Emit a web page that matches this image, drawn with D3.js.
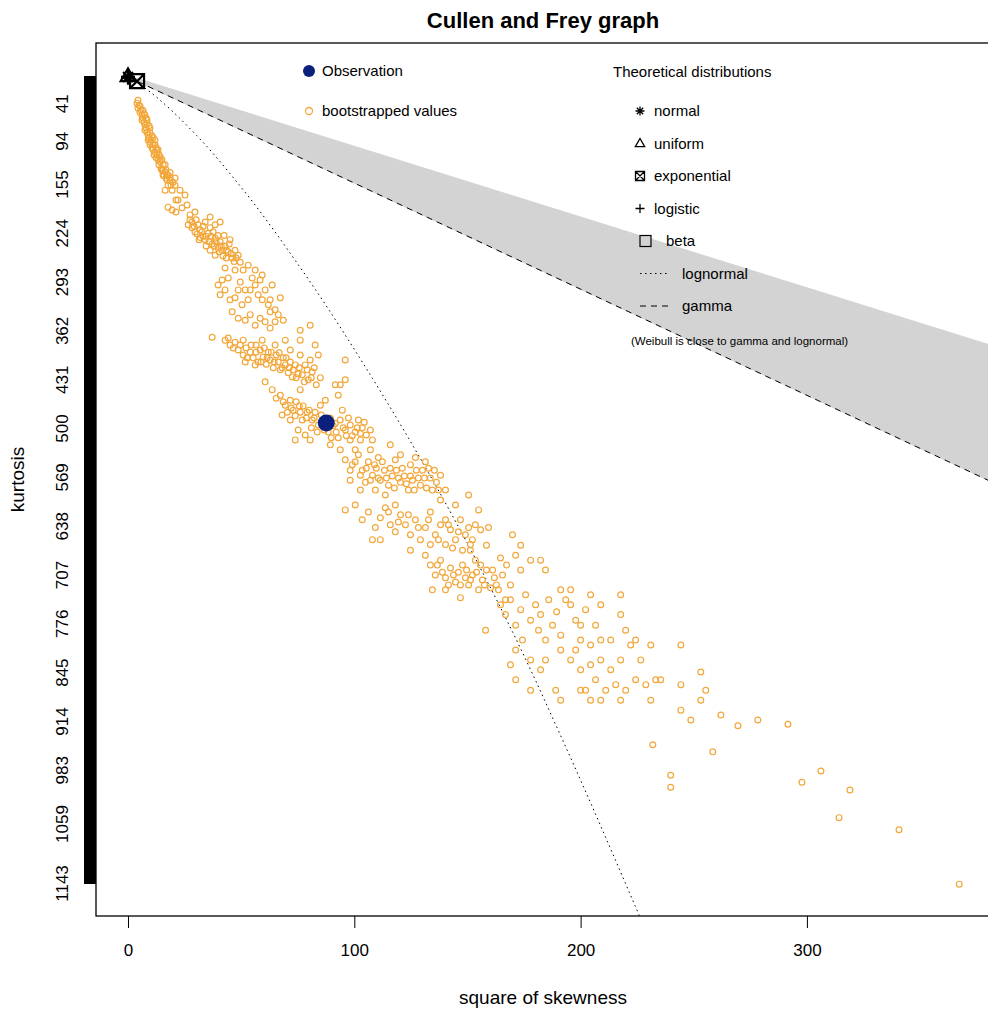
<!DOCTYPE html>
<html>
<head>
<meta charset="utf-8">
<script src="https://cdn.jsdelivr.net/npm/d3@7"></script>
<style>
body { margin: 0; background: #fff; }
svg { display: block; font-family: "Liberation Sans", Arial, Helvetica, sans-serif; }
</style>
</head>
<body>
<div id="chart"></div>
<script>
// observed (skewness^2, kurtosis)
const observation = [87.6, 492];

// bootstrapped (skewness^2, kurtosis)
const bootstrapped = [
  [4.0,40],[4.4,47],[4.9,43],[5.3,53],[5.8,50],[6.2,57],[6.2,64],[6.6,61],[7.1,67],[7.5,71],
  [7.5,78],[8.0,75],[8.4,81],[8.9,85],[8.9,92],[9.3,89],[9.7,95],[9.7,99],[10.2,92],[10.6,103],
  [11.1,99],[11.1,106],[11.5,113],[11.9,109],[12.4,117],[12.8,113],[13.3,120],[13.7,127],[14.2,123],[14.6,132],
  [15.0,135],[15.5,127],[15.9,142],[16.4,137],[16.8,146],[17.3,149],[17.7,156],[18.6,149],[19.5,163],[20.8,146],
  [7.5,57],[8.4,64],[9.7,75],[11.9,92],[13.3,106],
  [4.4,36],[5.3,44],[6.6,50],[7.1,55],[8.0,61],[8.4,69],[9.3,72],[9.7,82],[10.6,86],[11.1,89],
  [11.9,99],[12.4,103],[12.8,106],[13.7,113],[14.2,116],[15.0,120],[15.5,142],[16.4,127],[16.8,134],[17.7,142],
  [18.6,138],[19.0,156],[19.9,152],
  [14.2,120],[15.5,135],[17.3,142],[18.6,146],[20.8,156],[22.1,177],[17.7,187],[19.5,191],[21.2,194],[23.9,188],
  [26.1,184],[27.4,198],[29.6,194],[28.3,208],[23.0,163],[25.2,170],[21.2,177],[16.4,163],
  [26.6,212],[28.3,216],[29.6,222],[31.0,212],[31.9,219],[33.2,228],[34.1,233],[35.4,224],[36.3,216],[37.2,239],
  [38.5,231],[39.8,245],[40.7,236],[41.6,248],[42.9,242],[44.3,250],[45.1,233],[46.0,259],[47.3,248],[48.7,255],
  [49.6,265],[50.9,276],[38.5,212],[40.7,208],[34.1,208],[36.3,201],[31.9,230],[34.5,242],[37.6,222],[42.5,227],
  [43.4,259],[30.1,205],[33.2,214],[39.8,227],
  [27.4,205],[29.2,214],[30.5,225],[31.4,233],[32.7,222],[34.5,228],[35.8,236],[36.7,228],[38.1,242],[38.9,236],
  [40.3,250],[41.2,242],[42.0,256],[43.4,248],[44.7,239],[45.6,253],[46.9,264],[47.8,259],[36.3,248],[38.5,255],
  [39.8,297],[40.7,311],[42.9,304],[45.1,318],[47.3,315],[49.6,293],[50.4,325],[51.8,304],[53.1,318],[54.9,287],
  [56.2,297],[57.5,311],[58.4,290],[59.3,283],[60.6,304],[62.0,325],[62.8,318],[63.7,297],[65.0,332],[66.4,339],
  [67.3,315],[46.0,335],[48.7,344],[51.8,347],[54.0,339],[56.2,354],[58.4,344],[60.6,349],[62.8,358],[65.0,349],
  [44.3,287],[47.3,276],[42.9,273],[53.1,269],[56.2,276],
  [41.6,290],[48.7,304],[54.0,304],[59.3,318],[62.8,335],[68.6,347],
  [37.2,371],[42.9,375],[45.1,382],[47.3,378],[48.7,389],[49.6,382],[50.9,396],[52.2,386],[54.0,392],[55.3,400],
  [56.6,382],[57.5,406],[58.4,389],[59.7,399],[61.1,409],[62.0,392],[62.8,403],[64.2,414],[65.5,396],[66.4,406],
  [67.3,417],[68.6,400],[69.5,410],[70.8,421],[71.7,406],[73.0,417],[74.3,428],[75.7,414],[77.0,424],[78.3,410],
  [79.7,431],[81.4,420],[83.2,438],[85.0,428],[59.3,375],[65.0,382],[71.7,389],[76.1,396],[69.5,375],[76.1,375],
  [82.7,382],[84.1,396],[80.5,403],
  [44.3,372],[46.5,386],[50.9,375],[52.7,400],[54.4,382],[56.6,392],[58.8,406],[60.2,386],[61.5,400],[63.3,392],
  [64.6,406],[66.8,393],[68.1,414],[69.9,400],[71.2,414],[72.6,427],[73.9,410],[75.2,423],[77.9,434],[79.2,417],
  [81.0,428],[82.3,414],[56.2,410],[51.8,406],[76.1,361],[80.5,354],[93.8,438],[96.0,403],
  [60.6,434],[63.7,445],[67.3,453],[69.5,467],[71.7,460],[73.0,474],[74.3,462],[76.1,477],[77.4,468],[78.8,485],
  [80.1,474],[81.4,488],[82.7,477],[84.1,495],[85.4,481],[86.7,502],[89.4,485],[90.7,496],[92.0,505],[93.8,488],
  [95.1,499],[96.5,510],[98.2,495],[100.4,505],[101.8,488],[103.5,499],[105.3,509],[75.2,502],[78.3,509],[71.7,488],
  [68.1,481],[73.9,516],[80.5,516],[85.0,467],[91.6,438],[96.0,431],[92.9,453],[94.7,474],[76.1,445],[87.2,460],
  [98.2,516],[102.7,516],[100.4,530],[93.8,530],[89.4,523],
  [65.5,457],[68.6,462],[70.4,477],[72.1,471],[73.9,482],[75.7,468],[77.0,488],[79.2,477],[81.0,499],[82.3,485],
  [83.6,505],[86.3,488],[88.5,505],[89.8,513],[91.6,493],[92.9,513],[96.0,502],[97.4,485],[99.1,510],[101.3,499],
  [102.7,507],[104.4,491],[107.1,502],[108.0,516],
  [96.0,544],[99.1,551],[101.8,537],[103.5,559],[106.2,547],[108.0,566],[109.7,556],[111.5,573],[113.3,559],[115.1,580],
  [116.8,567],[118.6,559],[120.4,576],[122.1,567],[123.9,587],[125.7,573],[127.4,559],[129.2,580],[131.0,570],[132.8,556],
  [134.5,587],[136.3,576],[138.1,566],[104.9,576],[109.3,587],[113.7,594],[107.1,530],[118.1,544],[124.8,551],[110.6,541],
  [115.9,523],[120.4,537],[127.0,541],[131.4,547],[98.2,573],[102.7,587],[140.3,587],[138.1,601],
  [98.2,559],[100.4,547],[102.7,566],[105.3,556],[107.1,573],[108.9,551],[110.6,570],[112.4,547],[114.2,570],[115.9,556],
  [117.7,584],[119.5,570],[121.2,556],[123.0,578],[124.8,567],[126.5,587],[128.3,570],[130.1,559],[131.9,584],[133.6,570],
  [135.4,559],[137.2,587],
  [96.0,615],[100.4,608],[103.5,629],[106.2,618],[109.3,640],[111.5,626],[113.7,612],[115.9,636],[118.1,646],[120.4,622],
  [122.6,636],[124.8,650],[127.0,629],[129.2,657],[131.4,640],[133.6,618],[135.8,650],[138.1,636],[140.3,664],[142.5,643],
  [144.7,657],[146.9,629],[149.1,650],[151.3,664],[153.5,636],[154.9,615],[111.5,657],[118.1,608],[108.0,657],[144.7,608],
  [150.5,594],[133.6,664],[124.8,672],[140.3,629],
  [115.1,618],[119.5,632],[123.9,622],[128.3,640],[132.8,629],[137.2,657],[141.6,636],[143.4,669],[146.0,646],[147.8,672],
  [150.5,640],[152.2,657],[155.8,643],
  [131.4,679],[133.6,693],[135.8,707],[138.1,686],[140.3,711],[142.5,697],[144.7,717],[146.0,703],[147.8,693],[149.1,711],
  [150.5,721],[152.2,707],[153.5,686],[154.9,728],[156.6,714],[158.4,700],[160.2,725],[161.9,711],[163.7,728],[165.5,707],
  [167.3,693],[169.0,721],[171.3,679],[173.5,700],[134.5,728],[140.3,728],[146.9,739],[166.8,742],[151.3,672],[158.4,665],
  [164.6,683],[169.9,650],[173.5,665],[159.3,640],[177.9,686],[182.3,686],[184.5,700],
  [136.7,693],[138.9,703],[141.6,721],[143.8,707],[146.9,721],[149.6,700],[151.3,714],[154.0,703],[155.8,693],[157.5,721],
  [161.1,700],[162.8,721],
  [158.0,785],[164.6,749],[166.8,763],[169.0,742],[171.3,778],[173.5,756],[174.3,799],[175.7,735],[177.9,771],[180.1,749],
  [181.4,785],[182.3,763],[184.5,799],[185.9,742],[187.6,778],[189.4,759],[191.2,792],[193.4,742],[195.6,728],[197.8,771],
  [200.0,799],[202.2,756],[204.4,735],[206.6,778],[208.9,749],[171.3,813],[177.9,827],[184.5,827],[191.2,813],[197.8,813],
  [204.4,806],[169.0,834],[182.3,841],[191.2,728],[195.6,749],
  [195.6,827],[200.0,841],[202.2,870],[204.4,834],[206.6,855],[208.9,827],[211.1,870],[213.3,841],[215.5,862],[217.7,827],
  [219.9,870],[222.1,806],[224.3,855],[226.6,827],[228.8,862],[231.0,806],[233.2,855],[200.0,870],[208.9,884],[204.4,884],
  [217.7,884],[171.3,855],[177.9,870],[189.0,870],[191.2,884],[213.3,799],[208.9,799],[217.7,763],[219.9,785],[224.3,799],
  [200.0,778],[217.7,735],[244.3,806],[253.1,884],[248.7,912],[244.3,898],[255.3,870],[253.1,844],[262.0,905],[244.3,862],
  [235.4,855],[231.0,884],
  [231.9,947],[239.8,990],[239.8,1007],[258.4,957],[269.5,920],[278.3,912],[291.6,918],[297.8,1000],[306.2,984],[314.2,1050],
  [319.0,1011],[340.7,1067],[367.3,1144]
];

// theoretical distributions (skewness^2, kurtosis)
const theoNames = ["normal", "uniform", "exponential", "logistic"];
const theoPoints = [[0, 3], [0, 1.8], [4, 9], [0, 4.2]];

// lognormal curve and gamma line
const lognormalCurve = [[0,3],[0.96,4.8],[2.64,8],[6.1,15.6],[10.6,26.3],[16,41],[30.4,86],[50,159],[75.6,270],[108,429],[147.9,650],[170,788],[193,947],[226,1189]];
const gammaLine = [[0, 3], [382, 576]];
const betaLower = [[0, 1], [382, 383]];

// axis ticks
const xTicks = [0, 100, 200, 300];
const yLabels = [41, 94, 155, 224, 293, 362, 431, 500, 569, 638, 707, 776, 845, 914, 983, 1059, 1143];
const kurtMax = 1143;

const legendObs = ["Observation", "bootstrapped values"];
const legendTheo = ["normal", "uniform", "exponential", "logistic", "beta", "lognormal", "gamma"];

const margin = { top: 43, right: -2, bottom: 93, left: 96 };
const width = 988 - margin.left - margin.right;
const height = 1009 - margin.top - margin.bottom;

const svg = d3.select("#chart")
    .append("svg")
    .attr("width", 988)
    .attr("height", 1009);

const g = svg.append("g")
    .attr("transform", `translate(${margin.left}, ${margin.top})`);

const x = d3.scaleLinear().domain([-14.14, 380.9]).range([0, width]);
const y = d3.scaleLinear().domain([-45, 1189]).range([0, height]);

g.append("clipPath").attr("id", "plot-clip")
    .append("rect").attr("width", width).attr("height", height);

const plot = g.append("g").attr("clip-path", "url(#plot-clip)");

// beta region
const betaPoly = betaLower.concat(gammaLine.slice().reverse());
plot.append("path")
    .attr("d", d3.line().x(d => x(d[0])).y(d => y(d[1]))(betaPoly) + "Z")
    .attr("fill", "#d3d3d3")
    .attr("stroke", "#d3d3d3");

// gamma
plot.append("path")
    .attr("d", d3.line().x(d => x(d[0])).y(d => y(d[1]))(gammaLine))
    .attr("fill", "none")
    .attr("stroke", "#000")
    .attr("stroke-width", 1)
    .attr("stroke-dasharray", "6,5");

// lognormal
plot.append("path")
    .attr("d", d3.line().curve(d3.curveMonotoneY).x(d => x(d[0])).y(d => y(d[1]))(lognormalCurve))
    .attr("fill", "none")
    .attr("stroke", "#000")
    .attr("stroke-width", 1)
    .attr("stroke-dasharray", "1.5,3.5");

// bootstrapped values
plot.selectAll("circle.boot")
    .data(bootstrapped)
    .enter()
    .append("circle")
    .attr("class", "boot")
    .attr("cx", d => x(d[0]))
    .attr("cy", d => y(d[1]))
    .attr("r", 2.9)
    .attr("fill", "none")
    .attr("stroke", "#f2a73a")
    .attr("stroke-width", 1.2);

// observation
plot.append("circle")
    .attr("cx", x(observation[0]))
    .attr("cy", y(observation[1]))
    .attr("r", 8.5)
    .attr("fill", "#0b1f7c");

function symbolPath(name, r) {
    if (name === "normal") {
        const a = r * 0.707;
        return `M${-r},0H${r}M0,${-r}V${r}M${-a},${-a}L${a},${a}M${-a},${a}L${a},${-a}`;
    }
    if (name === "uniform") {
        const h = r * 1.1;
        return `M0,${-h}L${h * 0.95},${h * 0.65}L${-h * 0.95},${h * 0.65}Z`;
    }
    if (name === "exponential") {
        return `M${-r},${-r}H${r}V${r}H${-r}ZM${-r},${-r}L${r},${r}M${-r},${r}L${r},${-r}`;
    }
    if (name === "logistic") {
        return `M${-r},0H${r}M0,${-r}V${r}`;
    }
    return `M${-r},${-r}H${r}V${r}H${-r}Z`;
}

plot.selectAll("path.theo")
    .data(theoPoints)
    .enter()
    .append("path")
    .attr("class", "theo")
    .attr("transform", d => `translate(${x(d[0])}, ${y(d[1])})`)
    .attr("d", (d, i) => symbolPath(theoNames[i], 7))
    .attr("fill", "none")
    .attr("stroke", "#000")
    .attr("stroke-width", 2.2);

// box
g.append("rect")
    .attr("width", width)
    .attr("height", height)
    .attr("fill", "none")
    .attr("stroke", "#000")
    .attr("stroke-width", 1.3);

// x axis
const xAxis = g.append("g")
    .attr("transform", `translate(0, ${height})`)
    .call(d3.axisBottom(x).tickValues(xTicks).tickSize(12).tickPadding(16).tickSizeOuter(0));
xAxis.select(".domain").remove();
xAxis.selectAll("line").attr("stroke", "#000");
xAxis.selectAll("text").attr("font-size", 17).attr("fill", "#000").attr("font-family", "Liberation Sans, Arial, sans-serif");

// y axis: one tick per kurtosis unit
const yAxis = g.append("g")
    .call(d3.axisLeft(y).tickValues(d3.range(1, kurtMax + 1)).tickSize(12).tickFormat(""));
yAxis.select(".domain").remove();
yAxis.selectAll("line").attr("stroke", "#000").attr("shape-rendering", "crispEdges");

g.selectAll("text.ylab")
    .data(yLabels)
    .enter()
    .append("text")
    .attr("class", "ylab")
    .attr("transform", d => `translate(-34, ${y(d)}) rotate(-90)`)
    .attr("text-anchor", "middle")
    .attr("dominant-baseline", "central")
    .attr("font-size", 17)
    .text(d => d);

// titles
svg.append("text")
    .attr("x", margin.left + width / 2)
    .attr("y", 28)
    .attr("text-anchor", "middle")
    .attr("font-size", 22)
    .attr("font-weight", "bold")
    .text("Cullen and Frey graph");

svg.append("text")
    .attr("x", margin.left + width / 2)
    .attr("y", 1004)
    .attr("text-anchor", "middle")
    .attr("font-size", 19)
    .text("square of skewness");

svg.append("text")
    .attr("transform", `translate(24, ${margin.top + height / 2}) rotate(-90)`)
    .attr("text-anchor", "middle")
    .attr("font-size", 19)
    .text("kurtosis");

// legend: observation / bootstrap
const leg1 = svg.append("g");
leg1.append("circle").attr("cx", 309).attr("cy", 71).attr("r", 6).attr("fill", "#0b1f7c");
leg1.append("circle").attr("cx", 309).attr("cy", 111).attr("r", 3.5)
    .attr("fill", "none").attr("stroke", "#f2a73a").attr("stroke-width", 1.3);
leg1.selectAll("text")
    .data(legendObs)
    .enter()
    .append("text")
    .attr("x", 322)
    .attr("y", (d, i) => 76 + i * 40)
    .attr("font-size", 15)
    .text(d => d);

// legend: theoretical distributions
const leg2 = svg.append("g");
leg2.append("text")
    .attr("x", 613)
    .attr("y", 77)
    .attr("font-size", 15)
    .text("Theoretical distributions");

const rowY = i => 111 + i * 32.5;
legendTheo.forEach((name, i) => {
    const yy = rowY(i);
    if (i < 4) {
        leg2.append("path")
            .attr("transform", `translate(640, ${yy})`)
            .attr("d", symbolPath(name, 4.5))
            .attr("fill", "none")
            .attr("stroke", "#000")
            .attr("stroke-width", 1.3);
        leg2.append("text").attr("x", 654).attr("y", yy + 5).attr("font-size", 15).text(name);
    } else if (name === "beta") {
        leg2.append("rect")
            .attr("x", 640).attr("y", yy - 5.5).attr("width", 11).attr("height", 11)
            .attr("fill", "#d3d3d3").attr("stroke", "#000").attr("stroke-width", 1.2);
        leg2.append("text").attr("x", 666).attr("y", yy + 5).attr("font-size", 15).text(name);
    } else {
        leg2.append("line")
            .attr("x1", 640).attr("x2", 669).attr("y1", yy).attr("y2", yy)
            .attr("stroke", "#000").attr("stroke-width", 1)
            .attr("stroke-dasharray", name === "lognormal" ? "1.5,3.5" : "6,5");
        leg2.append("text").attr("x", 682).attr("y", yy + 5).attr("font-size", 15).text(name);
    }
});

leg2.append("text")
    .attr("x", 631)
    .attr("y", 345)
    .attr("font-size", 11.5)
    .text("(Weibull is close to gamma and lognormal)");
</script>
</body>
</html>
